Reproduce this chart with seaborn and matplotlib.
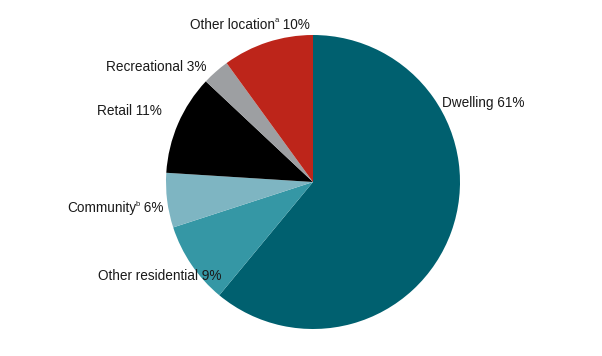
import matplotlib
matplotlib.use("Agg")
import matplotlib.pyplot as plt
import seaborn as sns

sns.set_theme(style="white")
plt.rcParams['font.family'] = ['Liberation Sans Narrow', 'Liberation Sans', 'DejaVu Sans']

categories = ["Dwelling", "Other residential", "Community", "Retail", "Recreational", "Other location"]
superscripts = ["", "", "b", "", "", "a"]
values = [61, 9, 6, 11, 3, 10]
colors = ["#00606F", "#3597A5", "#7EB5C2", "#000000", "#9D9FA2", "#BD251A"]

# label anchor positions (pixels, image coords) and alignment
label_pos = [(442, 103, "left"), (222, 276, "right"), (163, 208, "right"),
             (162, 111, "right"), (207, 67, "right"), (250, 25, "center")]

W, H = 602, 356
fig = plt.figure(figsize=(W / 100, H / 100), dpi=100)
ax = fig.add_axes([0, 0, 1, 1])

cx, cy, r = 313, H - 182, 147
ax.pie(values, colors=colors, startangle=90, counterclock=False,
       center=(cx, cy), radius=r, frame=True,
       wedgeprops=dict(edgecolor="none", linewidth=0))
ax.set_xlim(0, W)
ax.set_ylim(0, H)
ax.set_aspect("equal")
ax.axis("off")

renderer = fig.canvas.get_renderer()
FS = 9.8
SFS = 5.5
tcol = "#1a1a1a"

def width(t):
    return t.get_window_extent(renderer).width

for cat, sup, v, (x, y, ha) in zip(categories, superscripts, values, label_pos):
    yy = H - y
    if not sup:
        ax.text(x, yy, f"{cat} {v}%", ha=ha, va="center", fontsize=FS, color=tcol)
        continue
    t1 = ax.text(0, yy, cat, ha="left", va="center", fontsize=FS, color=tcol)
    t2 = ax.text(0, yy + 4, sup, ha="left", va="center", fontsize=SFS, color=tcol)
    t3 = ax.text(0, yy, f" {v}%", ha="left", va="center", fontsize=FS, color=tcol)
    w1, w2, w3 = width(t1), width(t2), width(t3)
    total = w1 + w2 + w3 - 1
    if ha == "left":
        x0 = x
    elif ha == "right":
        x0 = x - total
    else:
        x0 = x - total / 2
    t1.set_x(x0)
    t2.set_x(x0 + w1 - 1)
    t3.set_x(x0 + w1 + w2 - 1)

fig.savefig("out.png", dpi=100)
